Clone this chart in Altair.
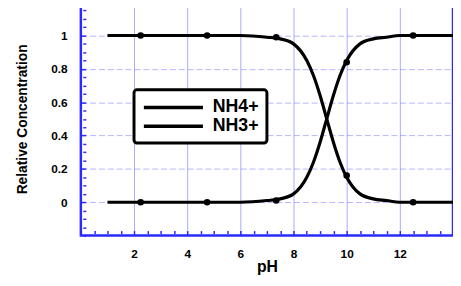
import altair as alt
import pandas as pd

ph = [1, 2, 3, 4, 5, 6, 7, 7.5, 8, 8.5, 8.75, 9, 9.25, 9.5, 9.75, 10, 10.5, 11, 11.5, 12, 13, 14]
nh4 = [1, 1, 1, 1, 1, 1, 0.99, 0.98, 0.95, 0.85, 0.76, 0.64, 0.5, 0.36, 0.24, 0.15, 0.05, 0.02, 0.01, 0, 0, 0]
nh3 = [0, 0, 0, 0, 0, 0, 0.01, 0.02, 0.05, 0.15, 0.24, 0.36, 0.5, 0.64, 0.76, 0.85, 0.95, 0.98, 0.99, 1, 1, 1]

mark_ph = [2.25, 4.75, 7.35, 10, 12.5]
mark_nh4 = [1, 1, 0.99, 0.16, 0]
mark_nh3 = [0, 0, 0.01, 0.84, 1]

names = ["NH4+", "NH3+"]

lines = pd.DataFrame({
    "pH": ph * 2,
    "c": nh4 + nh3,
    "s": [names[0]] * len(ph) + [names[1]] * len(ph),
})
pts = pd.DataFrame({
    "pH": mark_ph * 2,
    "c": mark_nh4 + mark_nh3,
    "s": [names[0]] * len(mark_ph) + [names[1]] * len(mark_ph),
})

BLUE = "#2a2aff"
xs = alt.Scale(domain=[0, 14], nice=False)
ys = alt.Scale(domain=[-0.2, 1.2], nice=False)

x_ticks = [i * 0.5 for i in range(0, 29)]
y_ticks = [round(-0.2 + i * 0.05, 2) for i in range(0, 29)]

col_scale = alt.Scale(domain=names, range=["black", "black"])
legend = alt.Legend(title=None, orient="none", legendX=54, legendY=89,
                    symbolType="M-1,0H6.5", symbolStrokeWidth=3.5, symbolSize=256,
                    symbolStrokeColor="black", symbolFillColor="black",
                    labelFontSize=18, labelFont="Liberation Sans",
                    labelFontWeight="bold", labelColor="black",
                    strokeColor="black", padding=8, fillColor="white",
                    rowPadding=0, labelOffset=52, cornerRadius=3)

x_major = "datum.value >= 1.9 && datum.value <= 12.1 && abs(datum.value/2 - round(datum.value/2)) < 0.01"
y_major = "datum.value >= -0.01 && datum.value <= 1.01 && abs(datum.value*5 - round(datum.value*5)) < 0.01"

x_axis = alt.Axis(values=x_ticks, title="pH", grid=True, gridColor=BLUE,
                  gridOpacity={"condition": {"test": x_major, "value": 0.4}, "value": 0},
                  gridWidth=1, domain=False, tickColor=BLUE,
                  tickSize={"condition": {"test": x_major, "value": 5}, "value": 3},
                  tickWidth=1.5, offset=-5, labelOverlap=False,
                  labelExpr=f"({x_major}) ? format(datum.value, 'd') : ''",
                  labelFont="Liberation Sans", labelFontWeight="bold", labelFontSize=12,
                  labelColor="black", labelPadding=13, titleFont="Liberation Sans",
                  titleFontWeight="bold", titleFontSize=16, titleColor="black", titlePadding=0)
y_axis = alt.Axis(values=y_ticks, title="Relative Concentration", grid=True,
                  gridColor=BLUE,
                  gridOpacity={"condition": {"test": y_major, "value": 0.35}, "value": 0},
                  gridDash=[6, 3], gridWidth=1, domain=False, tickColor=BLUE,
                  tickSize={"condition": {"test": y_major, "value": 5}, "value": 3},
                  tickWidth=1.5, offset=-5, labelOverlap=False,
                  labelFont="Liberation Sans", labelFontWeight="bold",
                  labelFontSize=12, labelColor="black", labelPadding=14, titleFont="Liberation Sans",
                  titleFontWeight="bold", titleFontSize=14, titleColor="black", titlePadding=22,
                  labelExpr=f"({y_major}) ? (abs(datum.value) < 0.01 ? '0' : abs(datum.value - 1) < 0.01 ? '1' : format(datum.value, '.1f')) : ''")

base_line = alt.Chart(lines).mark_line(strokeWidth=3.2, interpolate="monotone").encode(
    x=alt.X("pH:Q", scale=xs, axis=x_axis),
    y=alt.Y("c:Q", scale=ys, axis=y_axis),
    color=alt.Color("s:N", scale=col_scale, legend=legend),
    detail="s:N",
)
base_pts = alt.Chart(pts).mark_point(filled=True, size=45, opacity=1).encode(
    x=alt.X("pH:Q", scale=xs, axis=x_axis),
    y=alt.Y("c:Q", scale=ys, axis=y_axis),
    color=alt.Color("s:N", scale=col_scale, legend=legend),
)

chart = alt.layer(base_line, base_pts).properties(
    width=378, height=237,
    autosize=alt.AutoSizeParams(type="none"),
    padding={"left": 74, "top": -8, "right": 0, "bottom": 40},
).configure(background="white").configure_view(stroke=BLUE, strokeWidth=2.5).configure_legend(strokeWidth=3)

chart.save("out.html", embed_options={"renderer": "svg", "actions": False})
